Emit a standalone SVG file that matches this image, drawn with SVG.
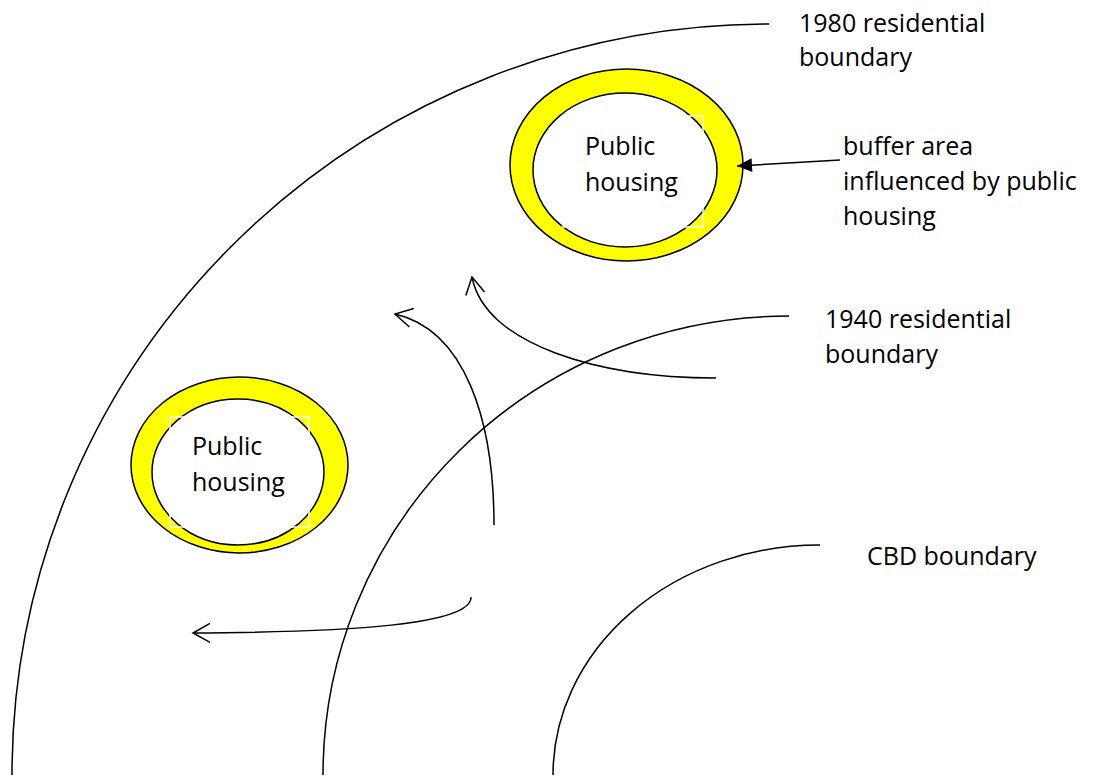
<svg xmlns="http://www.w3.org/2000/svg" width="1097" height="783" viewBox="0 0 1097 783">
<style>
.bd{fill:none;stroke:#000;stroke-width:1.5}
.ar{fill:none;stroke:#000;stroke-width:1.5}
.outer{fill:#ffff00;stroke:#000;stroke-width:1.5}
.inner{fill:#fff;stroke:#000;stroke-width:1.5}
.frame{fill:none;stroke:#fff;stroke-width:1.5}
text{font-family:"Open Sans","Liberation Sans",sans-serif;font-size:25px;fill:#000}
</style>
<defs>
<marker id="open" markerUnits="userSpaceOnUse" markerWidth="24" markerHeight="24" refX="0" refY="0" viewBox="-20 -12 24 24" orient="auto" overflow="visible">
<path d="M-17,-9.5 L0,0 L-17,9.5" fill="none" stroke="#000" stroke-width="1.5"/>
</marker>
<marker id="solid" markerUnits="userSpaceOnUse" markerWidth="20" markerHeight="20" refX="0" refY="0" viewBox="-18 -10 20 20" orient="auto" overflow="visible">
<path d="M-15,-7 L0,0 L-15,7 Z" fill="#000"/>
</marker>
</defs>
<g id="boundaries">
<path class="bd" d="M769,24 A757,751 0 0 0 12,775"/>
<path class="bd" d="M789,316 A466,459 0 0 0 323,775"/>
<path class="bd" d="M820,545 A267,230 0 0 0 553,775"/>
</g>
<g id="housing-top">
<ellipse class="outer" cx="626.5" cy="165" rx="116.5" ry="96"/>
<ellipse class="inner" cx="625" cy="170" rx="92" ry="77"/>
<rect class="frame" x="563" y="116" width="140" height="111"/>
<text x="585" y="155">Public</text>
<text x="585" y="191">housing</text>
</g>
<g id="housing-bottom">
<ellipse class="outer" cx="239.5" cy="465" rx="108.5" ry="88"/>
<ellipse class="inner" cx="238" cy="472" rx="86" ry="73"/>
<rect class="frame" x="170" y="417" width="139" height="110"/>
<text x="192" y="455">Public</text>
<text x="192" y="491">housing</text>
</g>
<g id="labels">
<text x="799" y="32">1980 residential</text>
<text x="799" y="66">boundary</text>
<text x="843" y="155">buffer area</text>
<text x="843" y="190">influenced by public</text>
<text x="843" y="225">housing</text>
<text x="825" y="328">1940 residential</text>
<text x="825" y="363">boundary</text>
<text x="867" y="565">CBD boundary</text>
</g>
<g id="connectors">
<path class="ar" d="M716,378 C600,378 485,345 472,277" marker-end="url(#open)"/>
<path class="ar" d="M494,525 C494,420 465,330 395,314" marker-end="url(#open)"/>
<path class="ar" d="M471,597 C472,625 350,632 193,633" marker-end="url(#open)"/>
<path class="ar" d="M840,160 L737,166" marker-end="url(#solid)"/>
</g>
</svg>
